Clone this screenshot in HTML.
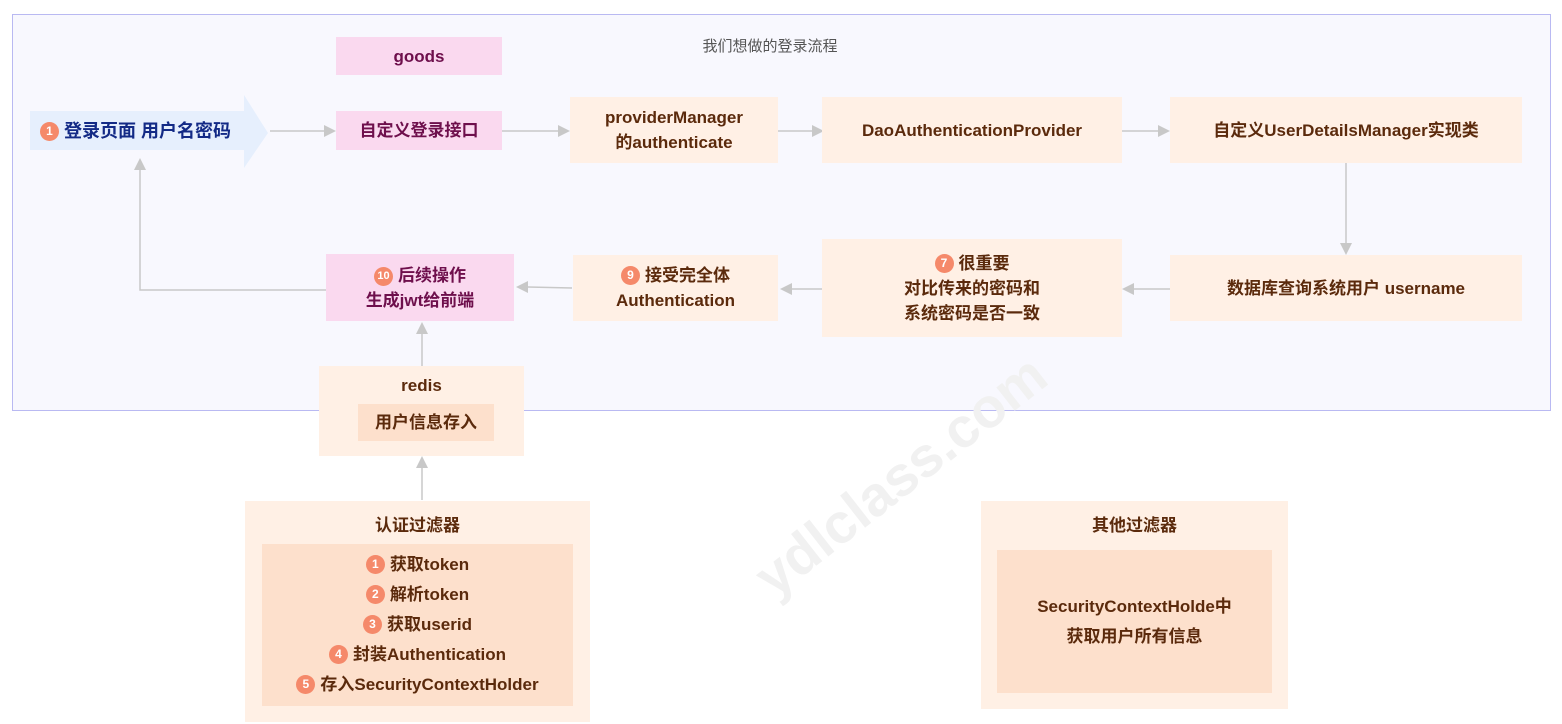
<!DOCTYPE html>
<html><head><meta charset="utf-8"><style>
body{margin:0;width:1562px;height:724px;background:#fff;position:relative;overflow:hidden;font-family:"Liberation Sans","Noto Sans CJK SC",sans-serif;font-weight:bold}
.a{position:absolute;box-sizing:border-box;display:flex;align-items:center;justify-content:center;text-align:center;line-height:25px}
.pk{background:#fad9ef;color:#6e0f4c;font-size:17px}
.pe{background:#fff0e5;color:#5b2a0c;font-size:17px}
.in{background:#fde0cc;color:#5b2a0c;font-size:17px}
.n{display:inline-block;width:19px;height:19px;border-radius:50%;background:#f5896a;color:#fff;font-size:12px;line-height:19px;text-align:center;margin-right:5px;vertical-align:2px}
</style></head><body>
<div style="position:absolute;left:12px;top:14px;width:1539px;height:397px;background:#f8f8fe;border:1px solid #b9b9f2;box-sizing:border-box"></div>
<div class="a" style="left:560px;top:34px;width:420px;height:24px;font-size:15px;font-weight:normal;color:#555">我们想做的登录流程</div>
<svg style="position:absolute;left:0;top:0" width="1562" height="724">
<polygon points="30,111 244,111 244,95 268,133 244,168 244,150 30,150" fill="#e6effd"/>
<g stroke="#c8c8c8" stroke-width="1.5" fill="none">
<line x1="270" y1="131" x2="324" y2="131"/><line x1="502" y1="131" x2="558" y2="131"/>
<line x1="778" y1="131" x2="812" y2="131"/><line x1="1122" y1="131" x2="1158" y2="131"/>
<line x1="1346" y1="163" x2="1346" y2="243"/>
<line x1="1170" y1="289" x2="1134" y2="289"/><line x1="822" y1="289" x2="792" y2="289"/>
<line x1="572" y1="288" x2="528" y2="287"/>
<polyline points="326,290 140,290 140,170"/>
<line x1="422" y1="366" x2="422" y2="334"/><line x1="422" y1="500" x2="422" y2="468"/>
</g>
<g fill="#c8c8c8">
<polygon points="336,131 324,125 324,137"/><polygon points="570,131 558,125 558,137"/>
<polygon points="824,131 812,125 812,137"/><polygon points="1170,131 1158,125 1158,137"/>
<polygon points="1346,255 1340,243 1352,243"/>
<polygon points="1122,289 1134,283 1134,295"/><polygon points="780,289 792,283 792,295"/>
<polygon points="516,287 528,281 528,293"/><polygon points="140,158 134,170 146,170"/>
<polygon points="422,322 416,334 428,334"/><polygon points="422,456 416,468 428,468"/>
</g>
<text x="900" y="495" transform="rotate(-38 900 475)" font-size="56" fill="#f1f1f1" text-anchor="middle" font-family="Liberation Sans" font-weight="bold">ydlclass.com</text>
</svg>
<div class="a" style="left:40px;top:111px;width:215px;height:40px;color:#132a86;font-size:18px;justify-content:flex-start"><span class="n">1</span>登录页面 用户名密码</div>
<div class="a pk" style="left:336px;top:37px;width:166px;height:38px">goods</div>
<div class="a pk" style="left:336px;top:111px;width:166px;height:39px">自定义登录接口</div>
<div class="a pe" style="left:570px;top:97px;width:208px;height:66px">providerManager<br>的authenticate</div>
<div class="a pe" style="left:822px;top:97px;width:300px;height:66px">DaoAuthenticationProvider</div>
<div class="a pe" style="left:1170px;top:97px;width:352px;height:66px">自定义UserDetailsManager实现类</div>
<div class="a pe" style="left:1170px;top:255px;width:352px;height:66px">数据库查询系统用户 username</div>
<div class="a pe" style="left:822px;top:239px;width:300px;height:98px"><div><span class="n">7</span>很重要<br>对比传来的密码和<br>系统密码是否一致</div></div>
<div class="a pe" style="left:573px;top:255px;width:205px;height:66px"><div><span class="n">9</span>接受完全体<br>Authentication</div></div>
<div class="a pk" style="left:326px;top:254px;width:188px;height:67px"><div><span class="n" style="font-size:11px">10</span>后续操作<br>生成jwt给前端</div></div>
<div class="pe" style="position:absolute;left:319px;top:366px;width:205px;height:90px"></div>
<div class="a" style="left:319px;top:372px;width:205px;height:26px;color:#5b2a0c;font-size:17px">redis</div>
<div class="a in" style="left:358px;top:404px;width:136px;height:37px">用户信息存入</div>
<div class="pe" style="position:absolute;left:245px;top:501px;width:345px;height:221px"></div>
<div class="a" style="left:245px;top:510px;width:345px;height:30px;color:#5b2a0c;font-size:17px">认证过滤器</div>
<div class="a in" style="left:262px;top:544px;width:311px;height:162px;line-height:30px"><div><span class="n">1</span>获取token<br><span class="n">2</span>解析token<br><span class="n">3</span>获取userid<br><span class="n">4</span>封装Authentication<br><span class="n">5</span>存入SecurityContextHolder</div></div>
<div class="pe" style="position:absolute;left:981px;top:501px;width:307px;height:208px"></div>
<div class="a" style="left:981px;top:510px;width:307px;height:30px;color:#5b2a0c;font-size:17px">其他过滤器</div>
<div class="a in" style="left:997px;top:550px;width:275px;height:143px;line-height:30px">SecurityContextHolde中<br>获取用户所有信息</div>
</body></html>
